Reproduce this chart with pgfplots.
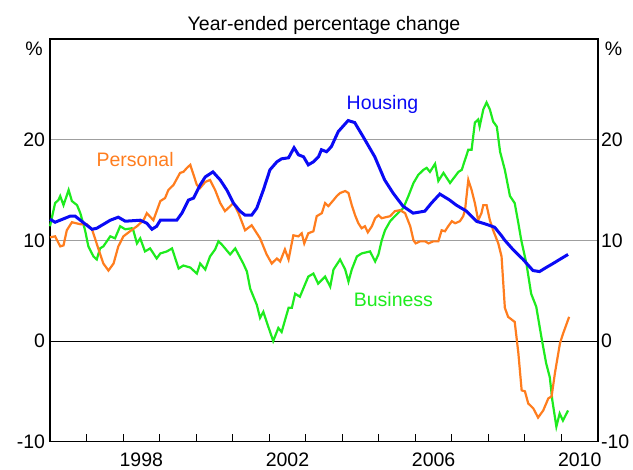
\documentclass[border=0pt]{standalone}
\usepackage{pgfplots}
\pgfplotsset{compat=1.18}
\usepackage{fontspec}
\setmainfont{Liberation Sans}
\definecolor{hous}{RGB}{10,10,245}
\definecolor{pers}{RGB}{255,125,30}
\definecolor{busi}{RGB}{30,235,30}
\newcommand{\lab}{\fontsize{19.5}{22}\selectfont}
\begin{document}
\begin{tikzpicture}
\pgfplotsset{every tick label/.append style={font=\lab},
  /pgf/number format/assume math mode=true}
\begin{axis}[name=ax, at={(0,0)}, anchor=south west, scale only axis,
  width=548pt, height=402.7pt,
  xmin=1996, xmax=2011, ymin=-10, ymax=30,
  ytick={-10,10,20}, extra y ticks={0},
  extra y tick style={grid style={black,line width=1pt}},
  ymajorgrids, grid style={gray!75,line width=0.9pt},
  xtick={1998.5,2002.5,2006.5,2010.5}, xticklabels={1998,2002,2006,2010},
  minor xtick={1997,...,2010},
  xtick pos=left, ytick pos=left,
  major tick length=0pt, minor tick length=7.7pt,
  minor tick style={black,line width=1pt},
  axis line style={black,line width=1.3pt},
  xticklabel style={yshift=-8pt},
  yticklabel style={xshift=-1.5pt},
  clip=false]
\addplot[busi, line width=2.2pt] coordinates {
(1996.0,11.4)(1996.14,13.7)(1996.23,14.0)(1996.28,14.4)(1996.37,13.5)(1996.51,15.0)(1996.60,13.9)(1996.74,13.5)(1996.83,12.7)(1996.96,11.0)
(1997.05,9.4)(1997.19,8.4)(1997.28,8.1)(1997.37,9.2)(1997.46,9.4)(1997.65,10.4)(1997.78,10.2)(1997.92,11.4)
(1998.06,11.1)(1998.24,11.2)(1998.28,11.0)(1998.38,9.7)(1998.47,10.2)(1998.60,8.9)(1998.74,9.2)(1998.92,8.2)
(1999.02,8.7)(1999.20,8.9)(1999.34,9.2)(1999.52,7.2)(1999.65,7.5)(1999.84,7.3)
(2000.02,6.7)(2000.11,7.7)(2000.25,7.1)(2000.38,8.4)(2000.52,9.1)(2000.61,9.9)(2000.70,9.6)(2000.93,8.6)
(2001.07,9.2)(2001.29,7.7)(2001.39,6.9)(2001.48,5.2)(2001.57,4.4)(2001.66,3.6)(2001.75,2.3)(2001.84,2.9)(2001.93,1.9)
(2002.11,0.0)(2002.25,1.3)(2002.34,0.9)(2002.53,3.3)(2002.62,3.3)(2002.71,4.7)(2002.84,4.4)
(2003.07,6.4)(2003.21,6.7)(2003.34,5.7)(2003.53,6.4)(2003.67,5.4)(2003.76,7.1)(2003.94,8.1)
(2004.08,7.1)(2004.17,5.9)(2004.26,7.1)(2004.40,8.4)(2004.53,8.7)(2004.76,8.9)(2004.90,7.9)(2004.99,8.6)
(2005.08,10.0)(2005.17,11.0)(2005.31,11.9)(2005.44,12.4)(2005.58,12.9)(2005.67,13.2)(2005.81,14.4)(2005.95,15.7)
(2006.08,16.5)(2006.22,17.0)(2006.31,17.2)(2006.40,16.8)(2006.54,17.6)(2006.63,15.9)(2006.77,16.7)(2006.95,15.7)
(2007.18,16.8)(2007.27,17.0)(2007.36,18.0)(2007.45,19.0)(2007.54,19.0)(2007.63,21.7)(2007.72,22.0)(2007.76,21.3)(2007.86,23.0)(2007.95,23.7)
(2008.04,23.0)(2008.13,21.8)(2008.23,21.3)(2008.32,18.8)(2008.45,17.0)(2008.59,14.4)(2008.72,13.7)(2008.82,11.7)(2008.90,10.0)
(2009.04,7.7)(2009.17,4.7)(2009.31,3.4)(2009.45,0.4)(2009.58,-2.2)(2009.68,-3.6)(2009.75,-5.9)(2009.86,-8.5)(2009.95,-7.2)
(2010.04,-7.9)(2010.18,-6.9)
};
\addplot[pers, line width=2.2pt] coordinates {
(1996.0,10.3)(1996.14,10.4)(1996.28,9.4)(1996.37,9.5)(1996.46,11.0)(1996.60,11.8)(1996.83,11.6)
(1997.01,11.6)(1997.15,11.1)(1997.33,9.1)(1997.46,7.7)(1997.60,7.0)(1997.74,7.7)(1997.87,9.4)
(1998.01,10.4)(1998.19,10.9)(1998.38,11.4)(1998.56,12.0)(1998.65,12.7)(1998.83,12.0)
(1999.02,13.9)(1999.15,14.2)(1999.24,15.0)(1999.38,15.5)(1999.56,16.7)(1999.65,16.8)(1999.75,17.2)(1999.84,17.5)
(2000.02,15.5)(2000.11,15.2)(2000.25,15.8)(2000.38,16.0)(2000.52,15.0)(2000.66,13.7)(2000.79,12.9)
(2001.02,13.7)(2001.16,12.7)(2001.34,11.0)(2001.52,11.5)(2001.75,10.2)(2001.93,8.6)
(2002.07,7.7)(2002.21,8.2)(2002.30,7.9)(2002.43,9.1)(2002.53,8.1)(2002.66,10.5)(2002.80,10.4)(2002.89,10.7)(2002.96,9.7)
(2003.07,10.7)(2003.21,10.9)(2003.30,12.4)(2003.44,12.7)(2003.53,13.7)(2003.62,13.4)(2003.76,14.0)(2003.85,14.4)(2003.94,14.7)
(2004.08,14.9)(2004.17,14.7)(2004.26,13.5)(2004.35,12.5)(2004.44,11.7)(2004.53,11.2)(2004.62,11.4)(2004.70,10.8)(2004.81,11.4)(2004.90,12.2)(2004.99,12.5)
(2005.08,12.2)(2005.31,12.4)(2005.44,12.9)(2005.58,13.0)(2005.72,12.7)(2005.86,11.4)(2005.95,10.0)
(2006.01,9.7)(2006.13,9.9)(2006.27,9.9)(2006.36,9.7)(2006.49,9.9)(2006.63,9.9)(2006.72,11.0)(2006.81,10.9)(2006.90,11.4)
(2007.00,11.9)(2007.09,11.7)(2007.22,11.9)(2007.31,12.4)(2007.36,13.0)(2007.45,16.0)(2007.54,15.0)(2007.63,13.7)(2007.72,12.0)(2007.81,12.7)(2007.86,13.5)(2007.95,13.5)
(2008.04,12.0)(2008.13,11.0)(2008.27,9.7)(2008.36,8.4)(2008.45,3.3)(2008.54,2.4)(2008.72,1.9)(2008.82,-1.2)(2008.91,-4.9)
(2009.00,-5.0)(2009.09,-6.2)(2009.23,-6.7)(2009.36,-7.6)(2009.50,-6.9)(2009.64,-5.7)(2009.73,-5.5)(2009.82,-3.2)(2009.96,-0.2)
(2010.05,0.8)(2010.21,2.4)
};
\addplot[hous, line width=3pt] coordinates {
(1996.0,12.1)(1996.14,11.8)(1996.55,12.4)(1996.69,12.4)(1996.83,12.0)
(1997.15,11.1)(1997.28,11.2)(1997.65,12.0)(1997.87,12.3)
(1998.06,11.9)(1998.47,12.0)(1998.65,11.7)(1998.79,11.1)(1998.92,11.4)
(1999.02,12.0)(1999.29,12.0)(1999.47,12.0)(1999.61,12.7)(1999.79,14.0)(1999.93,14.2)
(2000.11,15.5)(2000.25,16.3)(2000.46,16.8)(2000.66,16.0)(2000.84,15.0)
(2001.02,13.7)(2001.20,12.9)(2001.34,12.5)(2001.52,12.5)(2001.66,13.2)(2001.84,15.0)
(2002.02,17.0)(2002.21,17.8)(2002.34,18.1)(2002.53,18.2)(2002.68,19.2)(2002.80,18.5)(2002.94,18.3)
(2003.07,17.5)(2003.21,17.8)(2003.35,18.3)(2003.43,19.0)(2003.57,18.8)(2003.70,19.3)(2003.89,20.8)
(2004.16,21.9)(2004.34,21.7)(2004.57,20.3)(2004.89,18.3)
(2005.16,16.0)(2005.39,14.7)(2005.66,13.4)(2005.94,12.7)
(2006.26,12.9)(2006.44,13.7)(2006.67,14.6)(2006.94,14.0)
(2007.12,13.5)(2007.40,12.9)(2007.67,11.9)(2007.94,11.6)
(2008.17,11.3)(2008.35,10.5)(2008.45,10.0)(2008.67,9.1)(2008.95,8.1)
(2009.22,7.0)(2009.40,6.9)(2009.58,7.3)(2009.77,7.7)(2009.95,8.1)(2010.18,8.6)
};
\node[hous, font=\lab] at (axis cs:2005.1,23.5) {Housing};
\node[pers, font=\lab] at (axis cs:1998.33,18.0) {Personal};
\node[busi, font=\lab] at (axis cs:2005.4,4.1) {Business};
\end{axis}
\begin{axis}[at={(0,0)}, anchor=south west, scale only axis,
  width=548pt, height=402.7pt,
  xmin=1996, xmax=2011, ymin=-10, ymax=30,
  ytick={-10,0,10,20}, yticklabel pos=right, xtick=\empty,
  axis line style={draw=none}, major tick length=0pt,
  yticklabel style={xshift=-0.5pt}]
\end{axis}
\node[anchor=base, font=\lab] at ([yshift=8.3pt]ax.north) {Year-ended percentage change};
\node[anchor=base east, font=\lab, inner sep=0pt] at ([xshift=-7pt,yshift=-17pt]ax.north west) {\%};
\node[anchor=base west, font=\lab, inner sep=0pt] at ([xshift=6.7pt,yshift=-17pt]ax.north east) {\%};
\pgfresetboundingbox
\path[use as bounding box] ([xshift=-50pt,yshift=-28.3pt]ax.south west) rectangle ([xshift=35pt,yshift=39pt]ax.north east);
\end{tikzpicture}
\end{document}
